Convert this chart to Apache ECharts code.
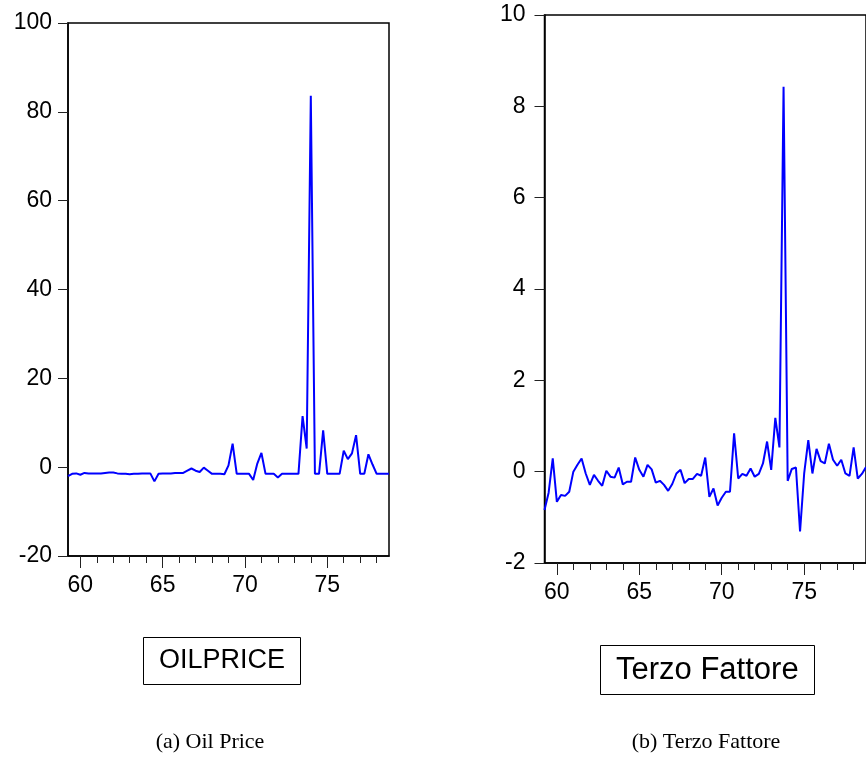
<!DOCTYPE html>
<html>
<head>
<meta charset="utf-8">
<script src="https://cdn.jsdelivr.net/npm/echarts@6/dist/echarts.min.js"></script>
<style>
  html, body { margin: 0; padding: 0; background: #fff; }
  #chart { width: 866px; height: 766px; }
</style>
</head>
<body>
<div id="chart"></div>
<script>
// Quarterly observations, first one at 1959.25, one step per quarter
const startYear = 59.25;
const step = 0.25;

// Oil price series
const oilPrice = [
  -2.0, -1.5, -1.4, -1.7, -1.3, -1.4, -1.4, -1.4, -1.4, -1.3,
  -1.2, -1.2, -1.4, -1.5, -1.5, -1.6, -1.5, -1.5, -1.4, -1.4,
  -1.4, -3.2, -1.5, -1.4, -1.4, -1.4, -1.3, -1.3, -1.3, -0.8,
  -0.3, -0.8, -1.1, -0.1, -0.8, -1.5, -1.5, -1.5, -1.6, 0.4,
  5.3, -1.5, -1.5, -1.5, -1.5, -2.9, 0.8, 3.2, -1.5, -1.5,
  -1.5, -2.3, -1.5, -1.5, -1.5, -1.5, -1.5, 11.5, 4.2, 83.6,
  -1.5, -1.5, 8.3, -1.5, -1.5, -1.5, -1.5, 3.7, 1.8, 3.1,
  7.2, -1.5, -1.5, 2.9, 0.6, -1.5, -1.5, -1.5, -1.5
];

// Third factor series
const terzoFattore = [
  -0.84, -0.46, 0.29, -0.66, -0.51, -0.53, -0.44, 0.0, 0.15, 0.29,
  -0.04, -0.29, -0.07, -0.2, -0.31, 0.02, -0.11, -0.13, 0.09, -0.28,
  -0.22, -0.22, 0.31, 0.04, -0.11, 0.15, 0.05, -0.24, -0.2, -0.29,
  -0.42, -0.27, -0.04, 0.04, -0.25, -0.16, -0.16, -0.05, -0.09, 0.31,
  -0.55, -0.37, -0.74, -0.57, -0.44, -0.44, 0.84, -0.15, -0.05, -0.09,
  0.07, -0.11, -0.05, 0.18, 0.66, 0.04, 1.18, 0.53, 8.43, -0.2,
  0.06, 0.09, -1.31, -0.04, 0.69, -0.04, 0.5, 0.23, 0.18, 0.61,
  0.26, 0.13, 0.26, -0.04, -0.09, 0.53, -0.15, -0.05, 0.1
];

// Year ticks (minor) and labelled years (major)
const yearTicks = [60, 61, 62, 63, 64, 65, 66, 67, 68, 69, 70, 71, 72, 73, 74, 75, 76, 77, 78];
const labelYears = [60, 65, 70, 75];

// Panel titles and captions
const panelNames = ['OILPRICE', 'Terzo Fattore'];
const captions = ['(a) Oil Price', '(b) Terzo Fattore'];

const toPairs = arr => arr.map((v, i) => [startYear + i * step, v]);

const sans = 'Liberation Sans, Arial, Helvetica, sans-serif';
const serif = 'Liberation Serif, DejaVu Serif, serif';
const axisColor = '#000';

function minorXAxis(gridIndex) {
  return {
    gridIndex, type: 'value', position: 'bottom',
    min: startYear, max: 78.75,
    axisLine: { show: true, onZero: false, lineStyle: { color: axisColor, width: 1.5 } },
    axisTick: { show: true, customValues: yearTicks, length: 7, lineStyle: { color: '#222', width: 1 } },
    axisLabel: { show: false },
    splitLine: { show: false }
  };
}
function majorXAxis(gridIndex) {
  return {
    gridIndex, type: 'value', position: 'bottom',
    min: startYear, max: 78.75,
    axisLine: { show: false, onZero: false },
    axisTick: { show: true, customValues: labelYears, length: 12, lineStyle: { color: '#222', width: 1 } },
    axisLabel: { show: true, customValues: labelYears, margin: 18, fontSize: 23, fontFamily: sans, color: '#000' },
    splitLine: { show: false }
  };
}
function yAxis(gridIndex, min, max, interval, margin) {
  return {
    gridIndex, type: 'value', min, max, interval,
    axisLine: { show: true, onZero: false, lineStyle: { color: axisColor, width: 1.5 } },
    axisTick: { show: true, length: 10, lineStyle: { color: '#222', width: 1 } },
    axisLabel: { margin, fontSize: 23, fontFamily: sans, color: '#000' },
    splitLine: { show: false }
  };
}

const chart = echarts.init(document.getElementById('chart'), null, { renderer: 'canvas' });

chart.setOption({
  animation: false,
  backgroundColor: '#fff',
  grid: [
    { left: 68, top: 23, width: 321, height: 533, show: true, borderColor: '#000', borderWidth: 1.5 },
    { left: 544.5, top: 15, width: 327.6, height: 548, show: true, borderColor: '#000', borderWidth: 1.5 }
  ],
  xAxis: [minorXAxis(0), majorXAxis(0), minorXAxis(1), majorXAxis(1)],
  yAxis: [yAxis(0, -20, 100, 20, 16), yAxis(1, -2, 10, 2, 19)],
  title: [
    {
      text: panelNames[0], left: 143, top: 637, padding: [9, 16],
      borderColor: '#000', borderWidth: 1,
      textStyle: { fontFamily: sans, fontSize: 27, fontWeight: 'normal', color: '#000', lineHeight: 30 }
    },
    {
      text: panelNames[1], left: 600, top: 646, padding: [9, 16],
      borderColor: '#000', borderWidth: 1,
      textStyle: { fontFamily: sans, fontSize: 31, fontWeight: 'normal', color: '#000', lineHeight: 30 }
    }
  ],
  graphic: [
    { type: 'text', x: 210, y: 742, style: { text: captions[0], font: '22px ' + serif, fill: '#000', align: 'center', verticalAlign: 'middle' } },
    { type: 'text', x: 706, y: 742, style: { text: captions[1], font: '22px ' + serif, fill: '#000', align: 'center', verticalAlign: 'middle' } }
  ],
  series: [
    {
      type: 'line', xAxisIndex: 0, yAxisIndex: 0, data: toPairs(oilPrice),
      showSymbol: false, lineStyle: { color: '#0000ff', width: 2 }, clip: true
    },
    {
      type: 'line', xAxisIndex: 2, yAxisIndex: 1, data: toPairs(terzoFattore),
      showSymbol: false, lineStyle: { color: '#0000ff', width: 2 }, clip: true
    }
  ]
});
</script>
</body>
</html>
